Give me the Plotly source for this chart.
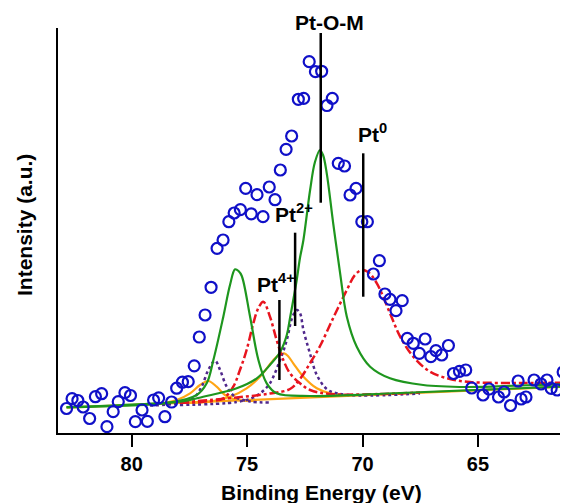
import plotly.graph_objects as go

# ---------------- data (binding energy in eV, intensity in a.u.) -------------
data_ev = [82.82, 82.58, 82.33, 82.10, 81.82, 81.57, 81.30, 81.07, 80.80, 80.58,
           80.29, 80.05, 79.84, 79.55, 79.32, 79.05, 78.83, 78.56, 78.27, 78.05,
           77.80, 77.55, 77.29, 77.07, 76.82, 76.56, 76.30, 76.04, 75.79, 75.56,
           75.29, 75.06, 74.82, 74.57, 74.31, 74.04, 73.79, 73.56, 73.31, 73.07,
           72.78, 72.55, 72.31, 72.04, 71.77, 71.54, 71.31, 71.05, 70.78, 70.54,
           70.28, 70.03, 69.79, 69.53, 69.27, 69.03, 68.81, 68.55, 68.28, 68.06,
           67.80, 67.54, 67.29, 67.04, 66.82, 66.57, 66.28, 66.06, 65.80, 65.53,
           65.27, 64.78, 64.52, 64.11, 63.87, 63.59, 63.26, 63.13, 62.92, 62.57,
           62.27, 62.01, 61.83, 61.57, 61.31, 61.14]
data_int = [6.05, 8.47, 8.02, 6.42, 3.58, 8.96, 9.70, 1.56, 5.26, 7.73,
            9.95, 9.26, 2.79, 5.68, 2.89, 8.15, 8.69, 4.02, 7.65, 11.06,
            12.54, 12.67, 16.59, 23.70, 29.14, 35.98, 45.60, 47.65, 52.17, 54.32,
            55.14, 60.42, 54.12, 58.84, 53.41, 60.74, 57.60, 64.94, 70.05, 73.33,
            82.40, 82.64, 91.68, 89.21, 89.31, 80.86, 82.64, 66.59, 65.93, 58.77,
            60.42, 52.17, 52.17, 39.26, 42.54, 34.32, 33.01, 30.20, 32.67, 23.38,
            22.15, 19.68, 23.21, 18.84, 20.32, 19.26, 21.60, 14.69, 15.23, 15.56,
            11.11, 9.38, 10.86, 8.89, 10.12, 6.79, 12.84, 8.40, 8.89, 13.09,
            12.10, 13.09, 11.04, 10.62, 15.06, 11.60]

# background
bg_ev = [82.82, 61.01]
bg_int = [6.25, 11.50]

# Pt-O-M doublet (green)
ptom_a_ev = [82.82, 80.43, 77.91, 76.90, 75.45, 74.58, 74.01, 73.57, 73.28, 73.14,
             72.85, 72.71, 72.56, 72.27, 72.06, 71.84, 71.71, 71.55, 71.27, 70.97,
             70.68, 70.25, 69.67, 68.81, 67.37, 65.49, 63.18, 61.01]
ptom_a_int = [6.42, 6.91, 7.73, 8.96, 11.04, 13.51, 16.79, 20.00, 24.20, 28.40,
              37.78, 43.21, 47.65, 60.00, 66.91, 69.88, 68.64, 64.12, 51.78, 39.43,
              28.72, 21.31, 16.37, 13.51, 11.85, 11.36, 11.73, 12.10]
ptom_b_ev = [82.82, 78.34, 77.18, 76.75, 76.46, 76.03, 75.74, 75.52, 75.37, 75.23,
             74.87, 74.51, 74.15, 73.72, 72.27, 68.37, 61.01]
ptom_b_int = [6.35, 7.53, 9.38, 12.27, 18.02, 28.72, 36.54, 40.42, 40.00, 38.77,
              28.72, 18.02, 12.27, 9.80, 9.14, 9.88, 11.53]

# Pt0 doublet (red dash-dot)
pt0_a_ev = [77.91, 75.45, 74.01, 73.14, 72.71, 72.27, 71.84, 71.27, 70.68, 70.33,
            70.03, 69.76, 69.38, 68.81, 68.37, 67.80, 67.08, 66.21, 65.34, 63.18, 61.01]
pt0_a_int = [7.50, 8.77, 9.75, 10.86, 13.33, 17.28, 21.48, 28.40, 35.31, 39.01,
             40.25, 39.75, 36.96, 29.56, 23.78, 18.84, 15.14, 13.33, 12.59, 12.35, 12.47]
pt0_b_ev = [77.91, 76.90, 76.03, 75.60, 75.31, 75.02, 74.73, 74.51, 74.30, 74.01,
            73.72, 73.43, 73.14, 72.71, 72.27, 71.41, 69.24, 67.51]
pt0_b_int = [7.45, 7.73, 8.57, 11.43, 15.56, 20.49, 27.09, 30.86, 32.42, 28.72,
             22.96, 18.02, 14.74, 12.27, 10.62, 9.63, 9.63, 10.00]

# Pt2+ doublet (purple dotted)
pt2_a_ev = [77.91, 75.45, 74.73, 74.31, 74.01, 73.57, 73.28, 73.05, 72.85, 72.71,
            72.56, 72.27, 71.98, 71.55, 71.12, 70.11, 67.51]
pt2_a_int = [6.91, 7.65, 8.77, 10.37, 12.27, 18.02, 22.96, 28.40, 30.37, 29.63,
             25.43, 19.51, 14.32, 10.86, 9.80, 9.26, 9.75]
pt2_b_ev = [79.21, 78.05, 77.33, 76.97, 76.68, 76.39, 76.17, 75.88, 75.52, 74.87, 74.01]
pt2_b_int = [6.79, 7.28, 8.57, 11.43, 15.56, 17.85, 15.56, 11.43, 8.96, 7.78, 7.53]

# Pt4+ doublet (orange)
pt4_a_ev = [77.91, 76.61, 75.74, 75.02, 74.44, 73.86, 73.62, 73.40, 73.23, 73.00,
            72.56, 71.98, 71.41, 70.68]
pt4_a_int = [7.41, 7.73, 8.96, 11.04, 13.90, 18.02, 19.26, 19.68, 19.01, 17.21,
             13.90, 11.04, 9.80, 9.31]
pt4_b_ev = [79.21, 78.05, 77.47, 77.04, 76.68, 76.32, 75.96, 75.45, 74.58]
pt4_b_int = [6.96, 8.15, 9.80, 11.85, 12.84, 11.43, 9.38, 8.15, 8.02]

# peak marker lines
marker_ev = [71.81, 69.97, 72.92, 73.60]
marker_top = [98.77, 69.06, 49.46, 32.84]
marker_bottom = [56.86, 33.65, 26.42, 13.09]

x_ticks = [80, 75, 70, 65]

# ---------------- styles ----------------
FONT = "Arial, Liberation Sans, sans-serif"
GREEN = "#1E961E"
RED = "#E8141E"
PURPLE = "#50288C"
ORANGE = "#FFA514"
BLUE = "#1010C8"

fig = go.Figure()

def add_line(x, y, color, dash="solid", width=2.2, shape="spline"):
    fig.add_trace(go.Scatter(x=x, y=y, mode="lines",
                             line=dict(color=color, width=width, dash=dash, shape=shape),
                             showlegend=False, hoverinfo="skip"))

add_line(bg_ev, bg_int, ORANGE, shape="linear")
add_line(pt4_b_ev, pt4_b_int, ORANGE)
add_line(pt4_a_ev, pt4_a_int, ORANGE)
add_line(pt2_b_ev, pt2_b_int, PURPLE, dash="dot", width=2.5)
add_line(pt2_a_ev, pt2_a_int, PURPLE, dash="dot", width=2.5)
add_line(pt0_b_ev, pt0_b_int, RED, dash="dashdot", width=2.5)
add_line(pt0_a_ev, pt0_a_int, RED, dash="dashdot", width=2.5)
add_line(ptom_b_ev, ptom_b_int, GREEN)
add_line(ptom_a_ev, ptom_a_int, GREEN)

fig.add_trace(go.Scatter(x=data_ev, y=data_int, mode="markers",
                         marker=dict(symbol="circle-open", size=11, color=BLUE,
                                     line=dict(width=2.2, color=BLUE)),
                         showlegend=False, hoverinfo="skip", cliponaxis=True))

for xe, yt, yb in zip(marker_ev, marker_top, marker_bottom):
    fig.add_shape(type="line", xref="x", yref="y", x0=xe, x1=xe, y0=yb, y1=yt,
                  line=dict(color="black", width=2.5))

label_font = dict(family=FONT, size=21, color="black", weight="bold")
fig.add_annotation(x=71.41, y=97.9, xref="x", yref="y", text="Pt-O-M", showarrow=False,
                   xanchor="center", yanchor="bottom", font=label_font)
fig.add_annotation(x=70.28, y=70.37, xref="x", yref="y", text="Pt<sup>0</sup>", showarrow=False,
                   xanchor="left", yanchor="bottom", font=label_font)
fig.add_annotation(x=73.88, y=50.62, xref="x", yref="y", text="Pt<sup>2+</sup>", showarrow=False,
                   xanchor="left", yanchor="bottom", font=label_font)
fig.add_annotation(x=74.66, y=33.33, xref="x", yref="y", text="Pt<sup>4+</sup>", showarrow=False,
                   xanchor="left", yanchor="bottom", font=label_font)

# axis titles
fig.add_annotation(x=0.5157, y=-0.1457, xref="paper", yref="paper", text="Binding Energy (eV)",
                   showarrow=False, xanchor="center", yanchor="middle",
                   font=dict(family=FONT, size=21, color="black", weight="bold"))
fig.add_annotation(x=-0.0647, y=0.5136, xref="paper", yref="paper", text="Intensity (a.u.)",
                   showarrow=False, xanchor="center", yanchor="middle", textangle=-90,
                   font=dict(family=FONT, size=21, color="black", weight="bold"))

# the page body adds an 8 px margin, so the figure is sized to fit the window
fig.update_layout(
    width=560, height=495,
    margin=dict(l=50, r=0, t=20, b=70),
    paper_bgcolor="white", plot_bgcolor="white",
    xaxis=dict(range=[83.19, 61.10], showline=True, linecolor="black", linewidth=2,
               ticks="outside", ticklen=12, tickwidth=2, tickcolor="black",
               tickvals=x_ticks, ticktext=[str(t) for t in x_ticks],
               tickfont=dict(family=FONT, size=20, color="black", weight="bold"),
               showgrid=False, zeroline=False, mirror=False),
    yaxis=dict(range=[0, 100], showline=True, linecolor="black", linewidth=2,
               ticks="", showticklabels=False, showgrid=False, zeroline=False),
)

fig.write_html("out.html")
